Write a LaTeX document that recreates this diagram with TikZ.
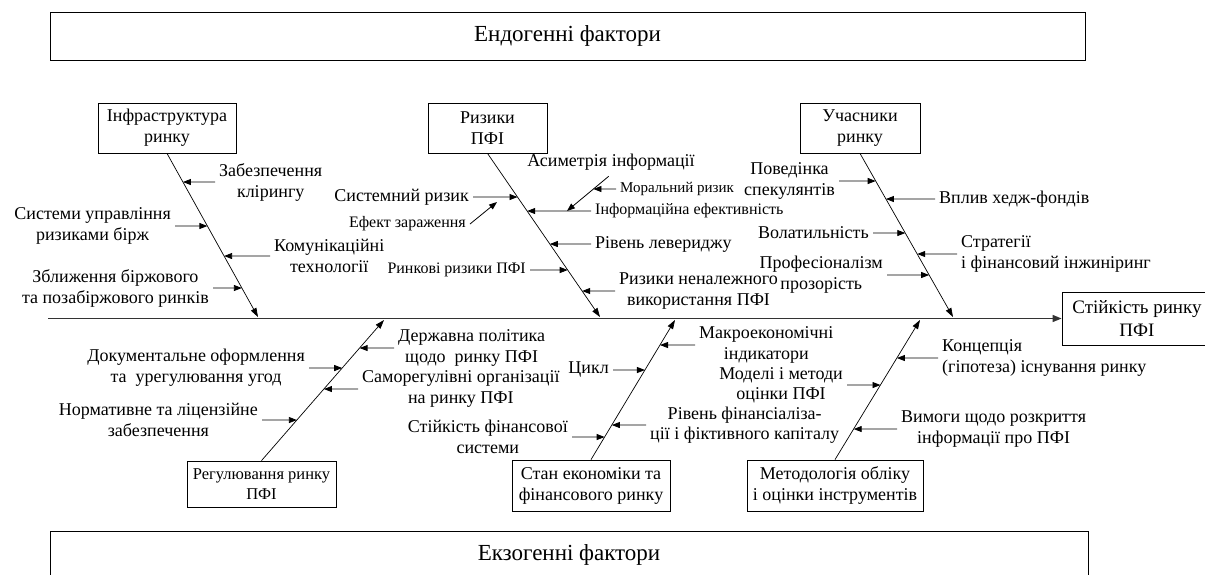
\documentclass[tikz,border=0pt]{standalone}
\usepackage{fontspec}
\setmainfont{Liberation Serif}
\usetikzlibrary{arrows.meta}

\tikzset{
  fac/.style={draw, line width=0.9pt, inner sep=0pt, font=\fontsize{23}{27}\selectfont},
  cat/.style={draw, line width=0.8pt, align=center, inner sep=0pt, font=\fontsize{18}{21}\selectfont},
  cause/.style={align=center, inner sep=4pt, font=\fontsize{18}{21}\selectfont},
  minor/.style={cause, font=\fontsize{16}{19}\selectfont},
  tiny/.style={cause, font=\fontsize{15}{18}\selectfont},
  spine/.style={line width=1.3pt, draw=black!80, -{Triangle[length=9pt,width=7pt]}},
  bone/.style={line width=0.7pt, -{Triangle[length=9pt,width=6pt]}},
  twig/.style={line width=0.8pt, -{Triangle[length=8pt,width=6pt]}},
}

\begin{document}
\begin{tikzpicture}[x=1pt, y=-1pt]
\useasboundingbox (0,0) rectangle (1205,574);
\clip (0,0) rectangle (1205,574);

% factor boxes
\node[fac, minimum width=1035pt, minimum height=48pt] (endo) at (567.5,36) {Ендогенні фактори};
\node[fac, minimum width=1038pt, minimum height=48pt] (exo) at (569,555) {Екзогенні фактори};

% effect and spine
\node[cat, font=\fontsize{19}{23}\selectfont, minimum width=150pt, minimum height=53pt] (eff) at (1137,318.5) {Стійкість ринку\\ПФІ};
\coordinate (tail) at (48,318.5);
\draw[spine] (tail) -- (eff.west);

% categories
\node[cat, minimum width=138pt, minimum height=50pt] (inf) at (167,128) {Інфраструктура\\ринку};
\node[cat, minimum width=119pt, minimum height=50pt] (riz) at (487.5,128) {Ризики\\ПФІ};
\node[cat, minimum width=120pt, minimum height=50pt] (uch) at (860,128) {Учасники\\ринку};
\node[cat, font=\fontsize{16.5}{20}\selectfont, minimum width=149pt, minimum height=46pt] (reg) at (261.5,484) {Регулювання ринку\\ПФІ};
\node[cat, minimum width=158pt, minimum height=51pt] (stan) at (591,485.5) {Стан економіки та\\фінансового ринку};
\node[cat, minimum width=176pt, minimum height=51pt] (met) at (835,485.5) {Методологія обліку\\і оцінки інструментів};

\coordinate (h1) at (258,317);
\coordinate (h2) at (600,317);
\coordinate (h3) at (953,317);
\coordinate (h4) at (384,320);
\coordinate (h5) at (675,320);
\coordinate (h6) at (920,320);
\draw[bone] (inf.south) -- (h1);
\draw[bone] (riz.south) -- (h2);
\draw[bone] (uch.south) -- (h3);
\draw[bone] (reg.north) -- (h4);
\draw[bone] (stan.north) -- (h5);
\draw[bone] (met.north) -- (h6);

% market infrastructure
\node[cause, anchor=west] (zk) at (215,182) {Забезпечення\\клірингу};
\node[cause, anchor=east] (sur) at (175,226) {Системи управління\\ризиками бірж};
\node[cause, anchor=west] (kt) at (270,256) {Комунікаційні\\технології};
\node[cause, anchor=east] (zb) at (213,288) {Зближення біржового\\та позабіржового ринків};
\draw[twig] (zk.west) -- (intersection of inf.south--h1 and zk.west--zk.east);
\draw[twig] (sur.east) -- (intersection of inf.south--h1 and sur.west--sur.east);
\draw[twig] (kt.west) -- (intersection of inf.south--h1 and kt.west--kt.east);
\draw[twig] (zb.east) -- (intersection of inf.south--h1 and zb.west--zb.east);

% risks
\node[cause, anchor=east] (sr) at (473,197) {Системний ризик};
\node[minor, anchor=east] (ez) at (470,224) {Ефект зараження};
\node[cause] (ai) at (611,162) {Асиметрія інформації};
\node[tiny, anchor=west] (mr) at (616,189) {Моральний ризик};
\node[minor, anchor=west] (ie) at (591,211) {Інформаційна ефективність};
\node[cause, anchor=west] (rl) at (591,244) {Рівень левериджу};
\node[minor, anchor=east] (rr) at (530,270) {Ринкові ризики ПФІ};
\node[cause, anchor=west] (rn) at (615,291) {Ризики неналежного\\використання ПФІ};
\coordinate (ez-tip) at (497,202);
\coordinate (ai-tip) at (567,211);
\draw[twig] (sr.east) -- (intersection of riz.south--h2 and sr.west--sr.east);
\draw[twig] (ez.east) -- (ez-tip);
\draw[twig, shorten <=3pt] (ai.south) -- (ai-tip);
\draw[twig] (mr.west) -- (intersection of ai.south--ai-tip and mr.west--mr.east);
\draw[twig] (ie.west) -- (intersection of riz.south--h2 and ie.west--ie.east);
\draw[twig] (rl.west) -- (intersection of riz.south--h2 and rl.west--rl.east);
\draw[twig] (rr.east) -- (intersection of riz.south--h2 and rr.west--rr.east);
\draw[twig] (rn.west) -- (intersection of riz.south--h2 and rn.west--rn.east);

% participants
\node[cause, anchor=east] (ps) at (839,181) {Поведінка\\спекулянтів};
\node[cause, anchor=west] (vh) at (935,199) {Вплив хедж-фондів};
\node[cause, anchor=east] (vl) at (873,233) {Волатильність};
\node[cause, anchor=west, align=left] (sf) at (957,254) {Стратегії\\і фінансовий інжиніринг};
\node[cause, anchor=east] (pp) at (887,275) {Професіоналізм\\прозорість};
\draw[twig] (ps.east) -- (intersection of uch.south--h3 and ps.west--ps.east);
\draw[twig] (vh.west) -- (intersection of uch.south--h3 and vh.west--vh.east);
\draw[twig] (vl.east) -- (intersection of uch.south--h3 and vl.west--vl.east);
\draw[twig] (sf.west) -- (intersection of uch.south--h3 and sf.west--sf.east);
\draw[twig] (pp.east) -- (intersection of uch.south--h3 and pp.west--pp.east);

% regulation
\node[cause, anchor=west] (dp) at (394,348) {Державна політика\\щодо\ \ ринку ПФІ};
\node[cause, anchor=east] (du) at (309,368) {Документальне оформлення\\та\ \ урегулювання угод};
\node[cause, anchor=west] (so) at (358,389) {Саморегулівні організації\\на ринку ПФІ};
\node[cause, anchor=east] (nl) at (262,420) {Нормативне та ліцензійне\\забезпечення};
\draw[twig] (dp.west) -- (intersection of reg.north--h4 and dp.west--dp.east);
\draw[twig] (du.east) -- (intersection of reg.north--h4 and du.west--du.east);
\draw[twig] (so.west) -- (intersection of reg.north--h4 and so.west--so.east);
\draw[twig] (nl.east) -- (intersection of reg.north--h4 and nl.west--nl.east);

% economy
\node[cause, anchor=west] (mi) at (695,345) {Макроекономічні\\індикатори};
\node[cause, anchor=east] (cy) at (613,370) {Цикл};
\node[cause, anchor=west, font=\fontsize{18}{20}\selectfont] (rf) at (646,425) {Рівень фінансіаліза-\\ції і фіктивного капіталу};
\node[cause, anchor=east] (sfs) at (572,437) {Стійкість фінансової\\системи};
\draw[twig] (mi.west) -- (intersection of stan.north--h5 and mi.west--mi.east);
\draw[twig] (cy.east) -- (intersection of stan.north--h5 and cy.west--cy.east);
\draw[twig] (rf.west) -- (intersection of stan.north--h5 and rf.west--rf.east);
\draw[twig] (sfs.east) -- (intersection of stan.north--h5 and sfs.west--sfs.east);

% methodology
\node[cause, anchor=west, align=left] (kc) at (938,358) {Концепція\\(гіпотеза) існування ринку};
\node[cause, anchor=east, font=\fontsize{18}{20}\selectfont] (mm) at (847,385) {Моделі і методи\\оцінки ПФІ};
\node[cause, anchor=west] (vr) at (897,429) {Вимоги щодо розкриття\\інформації про ПФІ};
\draw[twig] (kc.west) -- (intersection of met.north--h6 and kc.west--kc.east);
\draw[twig] (mm.east) -- (intersection of met.north--h6 and mm.west--mm.east);
\draw[twig] (vr.west) -- (intersection of met.north--h6 and vr.west--vr.east);

\end{tikzpicture}
\end{document}
